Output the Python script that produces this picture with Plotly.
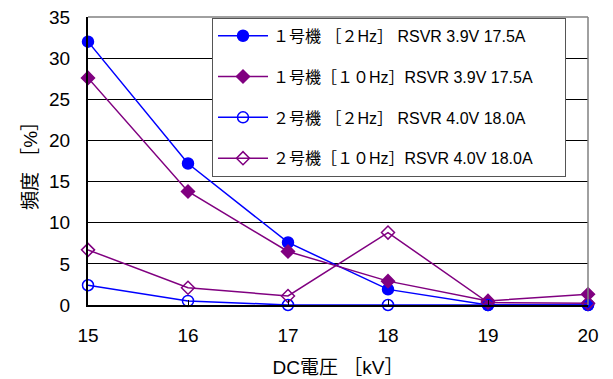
import plotly.graph_objects as go

# DC voltage steps [kV]
voltage_kv = [15, 16, 17, 18, 19, 20]

# Frequency of occurrence [%] for each unit / test frequency
unit1_2hz = [32.0, 17.2, 7.6, 1.9, 0.0, 0.0]
unit1_10hz = [27.6, 13.8, 6.5, 2.9, 0.5, 1.3]
unit2_2hz = [2.4, 0.5, 0.0, 0.0, 0.0, 0.0]
unit2_10hz = [6.7, 2.1, 1.1, 8.8, 0.3, 0.2]

series_names = [
    "１号機 ［２Hz］ RSVR 3.9V 17.5A",
    "１号機［１０Hz］RSVR 3.9V 17.5A",
    "２号機 ［２Hz］ RSVR 4.0V 18.0A",
    "２号機［１０Hz］RSVR 4.0V 18.0A",
]
x_tick_labels = ["15", "16", "17", "18", "19", "20"]
y_tick_values = [0, 5, 10, 15, 20, 25, 30, 35]

BLUE = "#0000FF"
PURPLE = "#800080"
FONT = "Liberation Sans, Noto Sans CJK JP, sans-serif"
PAD = "\u00a0" * 6  # right-hand padding inside the legend box

styles = [
    (unit1_2hz, BLUE, "circle", 11),
    (unit1_10hz, PURPLE, "diamond", 10),
    (unit2_2hz, BLUE, "circle-open", 11),
    (unit2_10hz, PURPLE, "diamond-open", 10),
]

fig = go.Figure()
for i, (vals, color, symbol, size) in enumerate(styles):
    fig.add_trace(go.Scatter(
        x=voltage_kv, y=vals, name=series_names[i] + PAD,
        mode="lines+markers", legendgroup=f"g{i}",
        line=dict(color=color, width=1.5),
        marker=dict(color=color, symbol=symbol, size=size,
                    line=dict(color=color, width=1.5)),
        cliponaxis=False,
    ))

fig.update_layout(
    width=613, height=379,
    margin=dict(l=88, r=25, t=17, b=74, autoexpand=False),
    paper_bgcolor="white", plot_bgcolor="white",
    font=dict(family=FONT, color="black"),
    legend=dict(
        x=0.248, xanchor="left", y=0.997, yanchor="top",
        bgcolor="white", bordercolor="#555555", borderwidth=1,
        font=dict(size=16, family=FONT), tracegroupgap=17,
        itemwidth=50,
    ),
    xaxis=dict(
        range=[15, 20], tickvals=voltage_kv, ticktext=x_tick_labels,
        showgrid=False, zeroline=False, automargin=False,
        showline=True, linecolor="black", linewidth=2,
        ticks="inside", ticklen=5, tickcolor="black",
        tickfont=dict(size=19), ticklabelstandoff=12,
        title=dict(text="DC電圧 ［kV］", font=dict(size=19), standoff=16),
    ),
    yaxis=dict(
        range=[0, 35], tickvals=y_tick_values, automargin=False,
        showgrid=True, gridcolor="black", gridwidth=1, zeroline=False,
        showline=True, linecolor="black", linewidth=2,
        tickfont=dict(size=19), ticklabelstandoff=12,
        title=dict(text="頻度 ［%］", font=dict(size=19), standoff=6),
    ),
    shapes=[
        dict(type="line", xref="paper", yref="paper", x0=0, x1=1, y0=1, y1=1,
             line=dict(color="#808080", width=1.5)),
        dict(type="line", xref="paper", yref="paper", x0=1, x1=1, y0=0, y1=1,
             line=dict(color="#808080", width=1.5)),
    ],
)

fig.write_html("out.html")
